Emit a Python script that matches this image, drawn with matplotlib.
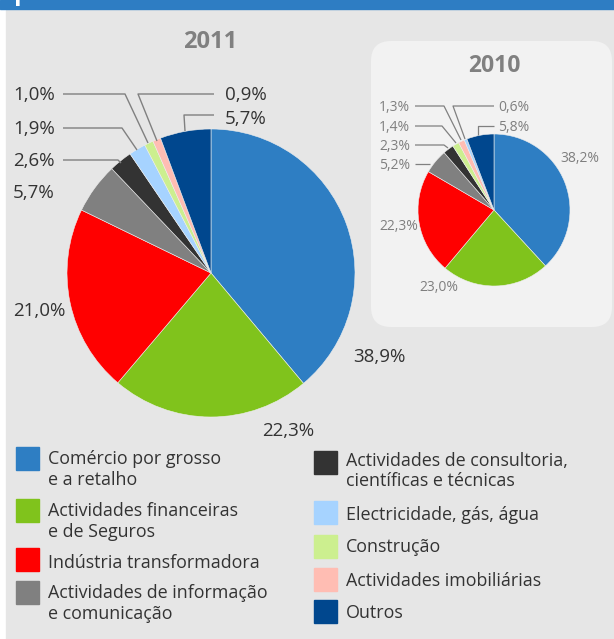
import matplotlib
matplotlib.use("Agg")
import matplotlib.pyplot as plt
from matplotlib.patches import Rectangle, FancyBboxPatch

plt.rcParams['font.family'] = ['Open Sans', 'DejaVu Sans']

# ---------------- data ----------------
categories = [
    "Comércio por grosso\ne a retalho",
    "Actividades financeiras\ne de Seguros",
    "Indústria transformadora",
    "Actividades de informação\ne comunicação",
    "Actividades de consultoria,\ncientíficas e técnicas",
    "Electricidade, gás, água",
    "Construção",
    "Actividades imobiliárias",
    "Outros",
]
colors = ["#2e7ec3", "#80c31c", "#ff0000", "#808080", "#333333",
          "#a6d3ff", "#ccef8f", "#ffbdb3", "#00478e"]

values_2011 = [38.9, 22.3, 21.0, 5.7, 2.6, 1.9, 1.0, 0.9, 5.7]
labels_2011 = ["38,9%", "22,3%", "21,0%", "5,7%", "2,6%", "1,9%", "1,0%", "0,9%", "5,7%"]

# 2010 slice order as drawn (category indices)
order_2010 = [0, 1, 2, 3, 4, 6, 7, 5, 8]
values_2010 = [38.2, 23.0, 22.3, 5.2, 2.3, 1.4, 1.3, 0.6, 5.8]
labels_2010 = ["38,2%", "23,0%", "22,3%", "5,2%", "2,3%", "1,4%", "1,3%", "0,6%", "5,8%"]

title_2011 = "2011"
title_2010 = "2010"
header_text = "por sectores"

# ---------------- figure ----------------
W, H = 614, 639
fig = plt.figure(figsize=(W / 100, H / 100), dpi=100)
ax = fig.add_axes([0, 0, 1, 1])

def Y(y):
    return H - y

TD = 1.5  # vertical text offset (px)

BG = "#e6e6e6"
ax.add_patch(Rectangle((0, 0), W, H, color="white", zorder=0))
ax.add_patch(Rectangle((6, 0), W, Y(10), color=BG, zorder=0.1))
ax.add_patch(Rectangle((0, Y(8.5)), W, 8.5, color="#2e7dc3", zorder=0.2))
ax.text(14, Y(0.3), header_text, color="white", fontsize=18, fontweight="bold",
        va="baseline", ha="left", zorder=0.3)

# 2010 box
ax.add_patch(FancyBboxPatch((371, Y(327)), 612 - 371, 327 - 41,
                            boxstyle="round,pad=0,rounding_size=20",
                            facecolor="#f2f2f2", edgecolor="none", zorder=0.5))

# ---------------- pies ----------------
wedge_kw = dict(edgecolor="#eeeeee", linewidth=0.4)
ax.pie(values_2011, colors=colors, startangle=90, counterclock=False,
       center=(211, Y(273)), radius=144, frame=True, wedgeprops=wedge_kw)
ax.pie(values_2010, colors=[colors[i] for i in order_2010], startangle=90,
       counterclock=False, center=(494, Y(210)), radius=76, frame=True,
       wedgeprops=wedge_kw)

ax.text(210, Y(41 + TD), title_2011, color="#808080", fontsize=17, fontweight="bold",
        ha="center", va="center")
ax.text(494, Y(65 + TD), title_2010, color="#808080", fontsize=16.5, fontweight="bold",
        ha="center", va="center")

# ---------------- 2011 labels ----------------
LC = "#808080"
dark = "#333333"
fs1 = 13.5
pos_2011 = [(353, 355), (262, 430), (13, 310),
            (13, 192), (13, 160), (13, 128),
            (13, 94), (225, 94), (225, 117)]
for lab, (x, y) in zip(labels_2011, pos_2011):
    ax.text(x, Y(y + TD), lab, color=dark, fontsize=fs1, ha="left", va="center")

leaders_2011 = [
    [(63, 94), (125, 94), (148, 143)],
    [(63, 128), (122, 128), (137, 150)],
    [(63, 160), (118, 160), (121, 163)],
    [(214, 94), (138, 94), (157, 141)],
    [(214, 115), (184, 115), (185, 131)],
]
for pts in leaders_2011:
    xs = [p[0] for p in pts]
    ys = [Y(p[1]) for p in pts]
    ax.plot(xs, ys, color=LC, lw=1, solid_capstyle="butt", zorder=3)

# ---------------- 2010 labels ----------------
fs2 = 10
pos_2010 = [(560, 157), (419, 286), (379, 225),
            (379, 164), (379, 145), (379, 126),
            (379, 106), (498, 106), (498, 126)]
for lab, (x, y) in zip(labels_2010, pos_2010):
    ax.text(x, Y(y + TD), lab, color="#7f7f7f", fontsize=fs2, ha="left", va="center")

leaders_2010 = [
    [(415, 106), (444, 106), (461, 140)],
    [(415, 126), (442, 126), (456, 143)],
    [(415, 145), (444, 145), (448, 148)],
    [(415, 164), (430, 164)],
    [(494, 106), (453, 106), (465, 139)],
    [(494, 126), (478, 126), (478, 135)],
]
for pts in leaders_2010:
    xs = [p[0] for p in pts]
    ys = [Y(p[1]) for p in pts]
    ax.plot(xs, ys, color=LC, lw=0.9, solid_capstyle="butt", zorder=3)

# ---------------- legend ----------------
leg_pos = [(16, 458), (16, 510), (16, 559), (16, 592),
           (314, 462), (314, 512), (314, 546), (314, 579), (314, 611)]
leg_text_first = [458, 510, 561, 592, 459, 513, 546, 579, 612]
fsl = 12.9
for cat, col, (x, yc), yt in zip(categories, colors, leg_pos, leg_text_first):
    ax.add_patch(Rectangle((x, Y(yc + 11.5)), 23, 23, color=col, zorder=2))
    for k, line in enumerate(cat.split("\n")):
        ax.text(x + 32, Y(yt + k * 20.5 + TD), line, color=dark, fontsize=fsl,
                ha="left", va="center")

ax.set_xlim(0, W)
ax.set_ylim(0, H)
ax.set_aspect("auto")
ax.axis("off")

fig.savefig("out.png", dpi=100)
